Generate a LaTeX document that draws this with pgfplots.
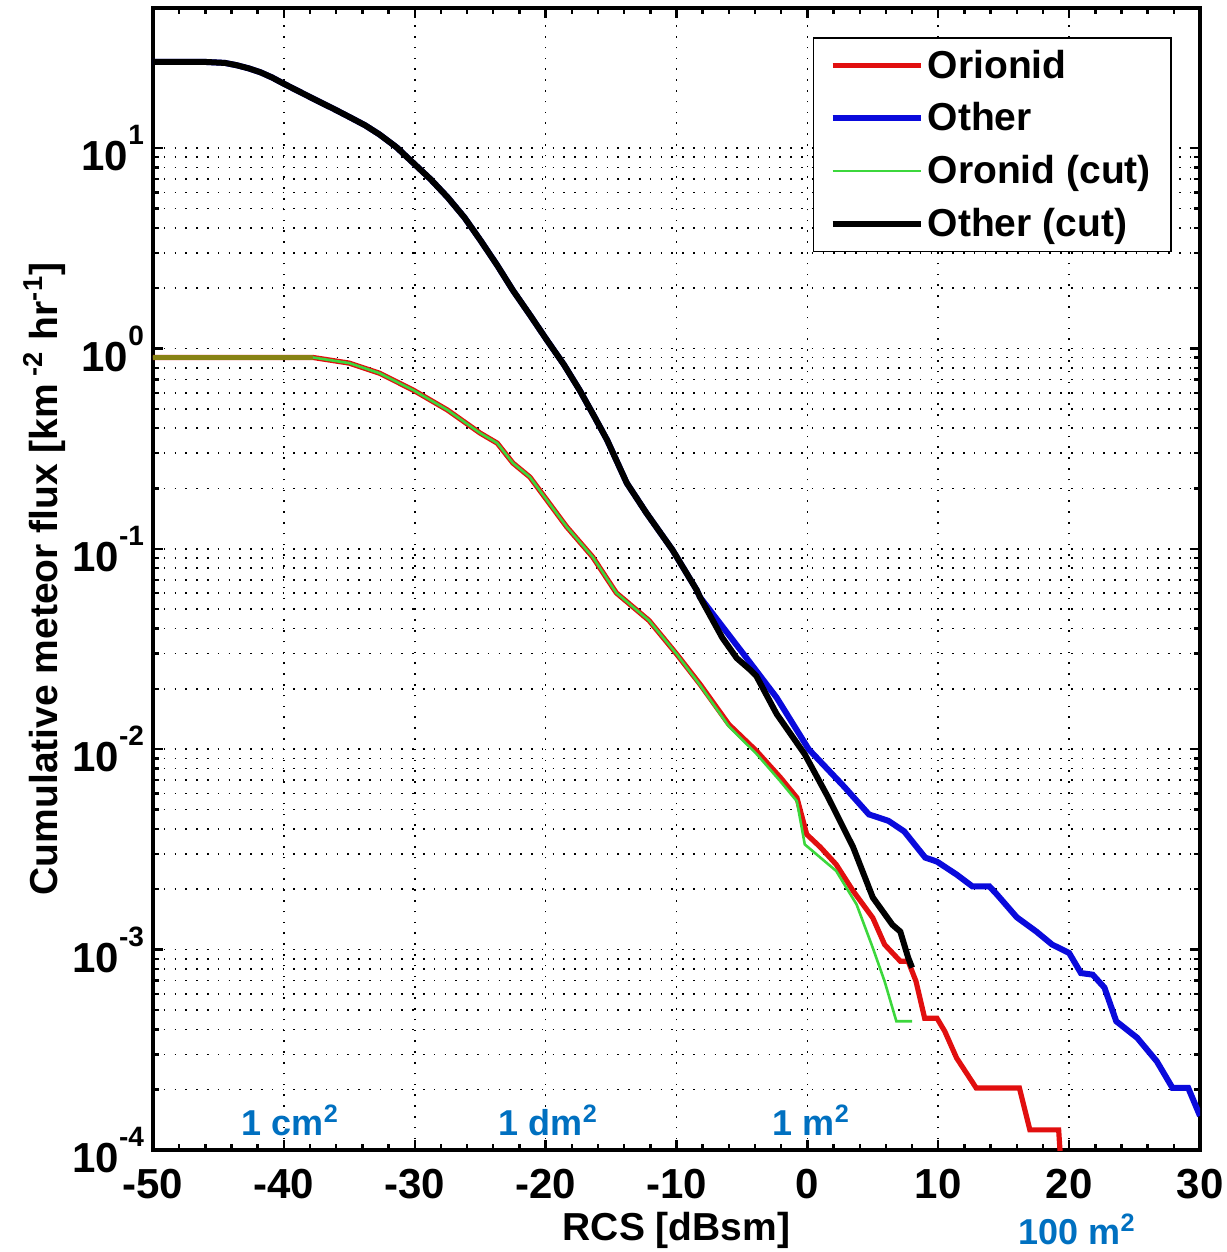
\documentclass[border=0pt]{standalone}
\usepackage{fontspec}
\setmainfont{Liberation Sans}
\usepackage{pgfplots}
\pgfplotsset{compat=1.18}
\definecolor{annblue}{RGB}{0,112,192}
\definecolor{mred}{RGB}{225,15,15}
\definecolor{mblue}{RGB}{10,10,220}
\definecolor{mgreen}{RGB}{60,215,60}
\definecolor{molive}{RGB}{135,130,20}
\newcommand{\ex}[1]{\raisebox{0.62em}{\fontsize{14}{14}\selectfont #1}}
\begin{document}
\begin{tikzpicture}
\begin{axis}[
  scale only axis,
  width=523.5pt, height=571pt,
  xmin=-50, xmax=30,
  ymode=log, ymin=1e-4, ymax=50,
  xtick={-50,-40,-30,-20,-10,0,10,20,30},
  xticklabels={-50,-40,-30,-20,-10,0,10,20,30},
  minor x tick num=4,
  ytick={1e-4,1e-3,1e-2,1e-1,1,10},
  yticklabels={10\ex{-4},10\ex{-3},10\ex{-2},10\ex{-1},10\ex{0},10\ex{1}},
  tick align=inside,
  major tick length=5pt, minor tick length=3pt,
  every tick/.style={black, line width=1.2pt},
  axis line style={line width=2pt},
  xmajorgrids, ymajorgrids, yminorgrids,
  major grid style={black, line width=0.8pt, dash pattern=on 0.8pt off 4.6pt},
  minor grid style={black, line width=0.8pt, dash pattern=on 0.8pt off 4.6pt},
  ticklabel style={font=\fontsize{21}{24}\selectfont\bfseries},
  xticklabel style={inner sep=0pt, yshift=-9.3pt},
  yticklabel style={xshift=-1pt},
  xlabel={RCS [dBsm]},
  ylabel={Cumulative meteor flux [km\textsuperscript{ -2} hr\textsuperscript{-1}]},
  label style={font=\fontsize{19.5}{23}\selectfont\bfseries},
  xlabel style={inner ysep=0pt, yshift=-6.5pt},
  ylabel style={yshift=-3.5pt},
  legend style={at={(rel axis cs:0.973,0.9746)}, anchor=north east,
    font=\fontsize{19.5}{23}\selectfont\bfseries, draw=black, line width=0.8pt,
    inner xsep=8pt, inner ysep=4pt, row sep=6.8pt, cells={anchor=west}},
  legend image code/.code={\draw[#1] (0cm,0cm) -- (1.55cm,0cm);},
]
% Orionid
\addplot[mred, line width=2.6pt] coordinates {
(-50,0.902) (-37.8,0.902) (-35,0.845) (-32.7,0.753) (-30.1,0.619) (-27.5,0.493)
(-25.0,0.378) (-23.7,0.337) (-22.5,0.268) (-21.2,0.228) (-19.9,0.175) (-18.4,0.129)
(-16.4,0.0910) (-14.6,0.0603) (-12.1,0.0439) (-10,0.0299) (-8.2,0.0211) (-6.0,0.0133)
(-3.9,0.00982) (-2.05,0.00721) (-0.8,0.00573) (-0.05,0.00376) (1.0,0.00324) (2.2,0.00266)
(3.5,0.00196) (5.0,0.00144) (5.9,0.00106) (7.1,0.000875) (7.7,0.000875) (8.3,0.000695)
(8.96,0.000455) (9.9,0.000455) (10.5,0.000391) (11.4,0.000288) (12.9,0.000204)
(16.2,0.000204) (17.0,0.000126) (19.2,0.000126) (19.4,0.0000794)
};
\addlegendentry{Orionid}
% Other
\addplot[mblue, line width=3pt] coordinates {
(-50,26.9) (-46,26.9) (-44.5,26.6) (-43.6,25.9) (-42.7,25.0) (-41.8,23.9) (-40.9,22.5) (-40.1,21.1)
(-38.8,19.1) (-37.5,17.3) (-36.2,15.7) (-35.0,14.3) (-33.8,13.0) (-32.7,11.7) (-31.4,10.1)
(-30.1,8.41) (-28.8,7.0) (-27.5,5.69) (-26.2,4.50) (-25.0,3.48) (-23.7,2.60) (-22.5,1.95)
(-21.2,1.47) (-19.9,1.10) (-18.6,0.83) (-17.4,0.619) (-16.3,0.46) (-15.3,0.349)
(-13.8,0.213) (-12.3,0.151) (-10.3,0.0986) (-8.45,0.0622)
(-8.2,0.0573) (-4.5,0.0277) (-2.35,0.0181) (0.1,0.0100) (2.85,0.00646) (4.7,0.00473)
(6.2,0.00439) (7.4,0.00389) (9.0,0.00288) (9.9,0.00275) (11.4,0.00237) (12.6,0.00207)
(13.9,0.00207) (14.5,0.00188) (16.0,0.00145) (17.5,0.00123) (18.7,0.00106) (20.0,0.000962)
(20.9,0.000764) (21.8,0.000750) (22.7,0.000646) (23.6,0.000439) (25.2,0.000363)
(26.7,0.000277) (27.9,0.000204) (29.1,0.000204) (30.0,0.000148)
};
\addlegendentry{Other}
% Orionid (cut)
\addplot[mgreen, line width=1.3pt] coordinates {
(-50,0.902) (-37.8,0.902) (-35,0.845) (-32.7,0.753) (-30.1,0.619) (-27.5,0.493)
(-25.0,0.378) (-23.7,0.337) (-22.5,0.268) (-21.2,0.228) (-19.9,0.175) (-18.4,0.129)
(-16.4,0.0910) (-14.6,0.0603) (-12.1,0.0439) (-10,0.0299) (-8.2,0.0209) (-6.0,0.0130)
(-3.9,0.0095) (-2.05,0.0069) (-0.8,0.0055) (-0.2,0.00335) (2.2,0.00247) (3.76,0.00168)
(5.0,0.00102) (5.9,0.000695) (6.8,0.000439) (8.0,0.000439)
};
\addlegendentry{Oronid (cut)}
% Other (cut)
\addplot[black, line width=3pt] coordinates {
(-50,26.9) (-46,26.9) (-44.5,26.6) (-43.6,25.9) (-42.7,25.0) (-41.8,23.9) (-40.9,22.5) (-40.1,21.1)
(-38.8,19.1) (-37.5,17.3) (-36.2,15.7) (-35.0,14.3) (-33.8,13.0) (-32.7,11.7) (-31.4,10.1)
(-30.1,8.41) (-28.8,7.0) (-27.5,5.69) (-26.2,4.50) (-25.0,3.48) (-23.7,2.60) (-22.5,1.95)
(-21.2,1.47) (-19.9,1.10) (-18.6,0.83) (-17.4,0.619) (-16.3,0.46) (-15.3,0.349)
(-13.8,0.213) (-12.3,0.151) (-10.3,0.0986) (-8.45,0.0622)
(-8.2,0.0573) (-6.5,0.0360) (-5.4,0.0285) (-4.4,0.0250) (-3.9,0.0232) (-2.35,0.0150) (-0.2,0.00944) (1.6,0.00573)
(3.5,0.00324) (5.0,0.00182) (6.5,0.00133) (7.1,0.00123) (7.7,0.000912) (8.0,0.000813)
};
\addlegendentry{Other (cut)}
% overlap of Orionid and Orionid (cut) on the plateau
\addplot[molive, line width=2.6pt, forget plot] coordinates {(-50,0.902) (-37.8,0.902)};
\node[text=annblue, font=\fontsize{18}{22}\selectfont\bfseries] at (axis cs:-39.5,1.41e-4) {1 cm\textsuperscript{2}};
\node[text=annblue, font=\fontsize{18}{22}\selectfont\bfseries] at (axis cs:-19.8,1.41e-4) {1 dm\textsuperscript{2}};
\node[text=annblue, font=\fontsize{18}{22}\selectfont\bfseries] at (axis cs:0.3,1.41e-4) {1 m\textsuperscript{2}};
\coordinate (c100) at (axis cs:20.6,1e-4);
\end{axis}
\node[text=annblue, font=\fontsize{18}{22}\selectfont\bfseries, anchor=north, inner sep=0pt] at ([yshift=-32pt]c100) {100 m\textsuperscript{2}};
\path (current axis.south west) ++(-76.5pt,-51pt) rectangle ++(613pt,626pt);
\end{tikzpicture}
\end{document}
